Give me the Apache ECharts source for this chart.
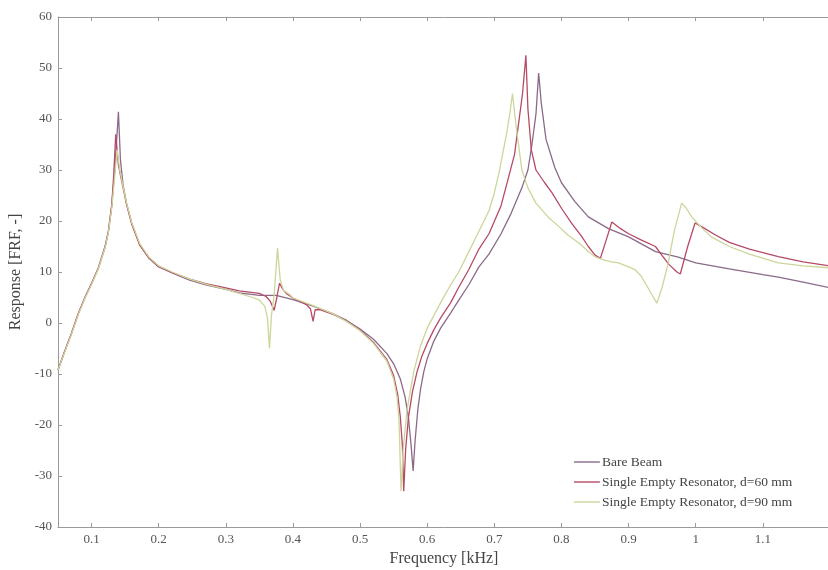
<!DOCTYPE html>
<html>
<head>
<meta charset="utf-8">
<script src="https://cdn.jsdelivr.net/npm/echarts@6/dist/echarts.min.js"></script>
<style>html,body{margin:0;padding:0;background:#fff;}#c{width:828px;height:570px;}</style>
</head>
<body>
<div id="c"></div>
<script>
// ---- data (frequency in kHz, response in FRF units) ----
const seriesNames = ["Bare Beam", "Single Empty Resonator, d=60 mm", "Single Empty Resonator, d=90 mm"];
const xTicks = [0.1, 0.2, 0.3, 0.4, 0.5, 0.6, 0.7, 0.8, 0.9, 1.0, 1.1];
const yTicks = [-40, -30, -20, -10, 0, 10, 20, 30, 40, 50, 60];

const bareFreq = [0.05,0.06,0.07,0.08,0.09,0.10,0.11,0.12,0.125,0.13,0.134,0.137,0.14,0.143,0.147,0.152,0.16,0.172,0.185,0.2,0.22,0.246,0.27,0.3,0.32,0.35,0.375,0.4,0.43,0.46,0.48,0.5,0.52,0.54,0.55,0.56,0.567,0.572,0.576,0.579,0.582,0.586,0.59,0.595,0.6,0.61,0.62,0.635,0.647,0.662,0.677,0.692,0.71,0.725,0.741,0.75,0.756,0.762,0.766,0.77,0.777,0.79,0.8,0.82,0.84,0.87,0.9,0.94,0.974,1.0,1.05,1.1,1.123,1.16,1.2];
const bareResp = [-9.2,-5.5,-2,1.8,5,7.8,10.8,15,18,23,29,35,41.4,32,27,23.5,19.5,15.3,12.8,11,9.8,8.4,7.5,6.6,5.9,5.4,5.4,4.6,3.3,1.8,0.5,-1.2,-3.2,-6,-8,-11,-14.5,-18.5,-24,-29,-23,-17,-13,-9.5,-7,-3.5,-1,2,4.5,7.5,11,13.5,17.5,21.5,26.5,30,35,41,49,43,36,30.5,27.5,23.8,20.8,18.5,16.9,14,12.9,11.8,10.6,9.5,9.0,8,6.9];

const d60Freq = [0.05,0.06,0.07,0.08,0.09,0.10,0.11,0.12,0.125,0.13,0.133,0.136,0.14,0.143,0.147,0.152,0.16,0.172,0.185,0.2,0.22,0.246,0.27,0.3,0.32,0.35,0.36,0.366,0.372,0.376,0.38,0.385,0.39,0.4,0.42,0.426,0.43,0.433,0.44,0.46,0.48,0.5,0.52,0.54,0.55,0.556,0.56,0.563,0.565,0.568,0.572,0.578,0.585,0.592,0.6,0.61,0.62,0.635,0.647,0.662,0.677,0.692,0.71,0.722,0.73,0.736,0.742,0.747,0.75,0.755,0.762,0.775,0.786,0.8,0.815,0.83,0.84,0.85,0.858,0.866,0.875,0.888,0.9,0.92,0.94,0.95,0.96,0.972,0.977,0.988,0.999,1.01,1.03,1.05,1.08,1.123,1.16,1.2];
const d60Resp = [-9.2,-5.6,-2.1,1.7,4.9,7.7,10.7,14.8,17.8,23,29,37,31,29,26.5,23.3,19.3,15.2,12.8,11.1,9.9,8.6,7.7,6.9,6.3,5.8,5.2,4.3,2.5,5,7.8,6.6,5.8,4.9,3.6,2.8,0.3,2.6,2.6,1.7,0.4,-1.4,-3.8,-7.2,-10.3,-14,-18.5,-24,-33,-24.5,-18.5,-13.5,-9.5,-6.5,-4,-1.3,1,4,7,10.5,14.5,17.5,23,29,33,39,45,52.5,42,34,30,27.5,25.5,22.5,19.6,17,15,13.3,12.7,16,19.8,18.5,17.5,16.2,15,13.2,11.5,10,9.6,15,19.6,18.8,17.2,15.8,14.5,13,12,11.2];

const d90Freq = [0.05,0.06,0.07,0.08,0.09,0.10,0.11,0.12,0.125,0.13,0.134,0.138,0.142,0.147,0.152,0.16,0.172,0.185,0.2,0.22,0.246,0.27,0.3,0.32,0.34,0.35,0.358,0.362,0.365,0.368,0.372,0.377,0.381,0.386,0.395,0.4,0.43,0.46,0.48,0.5,0.52,0.54,0.55,0.555,0.558,0.561,0.564,0.57,0.58,0.59,0.6,0.62,0.635,0.647,0.662,0.677,0.692,0.7,0.707,0.718,0.723,0.727,0.733,0.741,0.75,0.762,0.78,0.797,0.81,0.826,0.84,0.851,0.865,0.875,0.885,0.9,0.91,0.918,0.925,0.935,0.942,0.95,0.959,0.968,0.979,0.986,0.994,1.01,1.023,1.05,1.08,1.123,1.16,1.2];
const d90Resp = [-9.2,-5.7,-2.2,1.6,4.8,7.6,10.6,14.7,17.7,22.5,28,34,30,26.8,23.6,19.6,15.5,13,11.2,10,8.6,7.6,6.6,5.8,5,4.5,3.3,1,-5,1.5,5.5,14.7,8.5,6.4,5.6,4.9,3.4,1.8,0.3,-1.5,-4,-7.5,-11,-14.5,-19,-33,-25,-17,-9.5,-4.5,-1,4,7.5,10,14,18,22,25.5,29.5,37,41,45,38,30,26.5,23.5,20.8,18.8,17.2,15.7,14,12.9,12.3,12,11.8,11,10.4,9.3,7.8,5.5,3.9,7,11.8,18,23.5,22.5,20.8,18.5,16.9,15,13.5,11.8,11.2,10.8];

const colors = ["#8a6a88", "#b54a66", "#cdd59a"];

function pairs(xs, ys) { return xs.map((x, i) => [x, ys[i]]); }
const serif = "'Liberation Serif', 'DejaVu Serif', serif";
const fmt = v => String(+(+v).toFixed(2));
const lineIcon = 'path://M0,0H24V1.3H0Z';

const chart = echarts.init(document.getElementById('c'), null, { renderer: 'canvas' });
const axisLineStyle = { color: '#9a9a9a', width: 1 };
const mkSeries = (name, xs, ys, color) => ({
  name, type: 'line', data: pairs(xs, ys), showSymbol: false, symbol: 'none',
  lineStyle: { color, width: 1.3 }, itemStyle: { color }, color, animation: false, z: 3
});
chart.setOption({
  animation: false,
  backgroundColor: '#ffffff',
  color: colors,
  grid: { left: 58, top: 17, right: -2, bottom: 43, show: false, containLabel: false, outerBoundsMode: 'none' },
  legend: {
    show: true, orient: 'vertical', left: 569, top: 450, itemGap: 6,
    itemWidth: 26, itemHeight: 1.4, align: 'left',
    textStyle: { fontFamily: serif, fontSize: 13.5, color: '#444', padding: [0, 0, 0, -3] },
    data: seriesNames.map(n => ({ name: n, icon: lineIcon }))
  },
  xAxis: [{
    type: 'value', min: 0.05, max: 1.2, position: 'bottom',
    name: 'Frequency [kHz]', nameLocation: 'middle', nameGap: 15,
    nameTextStyle: { fontFamily: serif, fontSize: 16, color: '#444' },
    axisLine: { show: true, onZero: false, lineStyle: axisLineStyle },
    axisTick: { show: true, inside: true, length: 4, customValues: xTicks, lineStyle: axisLineStyle },
    axisLabel: { customValues: xTicks, formatter: fmt, fontFamily: serif, fontSize: 13, color: '#555', margin: 6 },
    splitLine: { show: false }
  }, {
    type: 'value', min: 0.05, max: 1.2, position: 'top',
    axisLine: { show: true, onZero: false, lineStyle: axisLineStyle },
    axisTick: { show: true, inside: true, length: 4, customValues: xTicks, lineStyle: axisLineStyle },
    axisLabel: { show: false }, splitLine: { show: false }
  }],
  yAxis: {
    type: 'value', min: -40, max: 60, interval: 10,
    name: 'Response [FRF, -]', nameLocation: 'middle', nameGap: 26,
    nameTextStyle: { fontFamily: serif, fontSize: 16, color: '#444' },
    axisLine: { show: true, onZero: false, lineStyle: axisLineStyle },
    axisTick: { show: true, inside: true, length: 4, lineStyle: axisLineStyle },
    axisLabel: { fontFamily: serif, fontSize: 13, color: '#555', margin: 6, formatter: fmt },
    splitLine: { show: false }
  },
  series: [
    mkSeries(seriesNames[0], bareFreq, bareResp, colors[0]),
    mkSeries(seriesNames[1], d60Freq, d60Resp, colors[1]),
    mkSeries(seriesNames[2], d90Freq, d90Resp, colors[2])
  ]
});
</script>
</body>
</html>
